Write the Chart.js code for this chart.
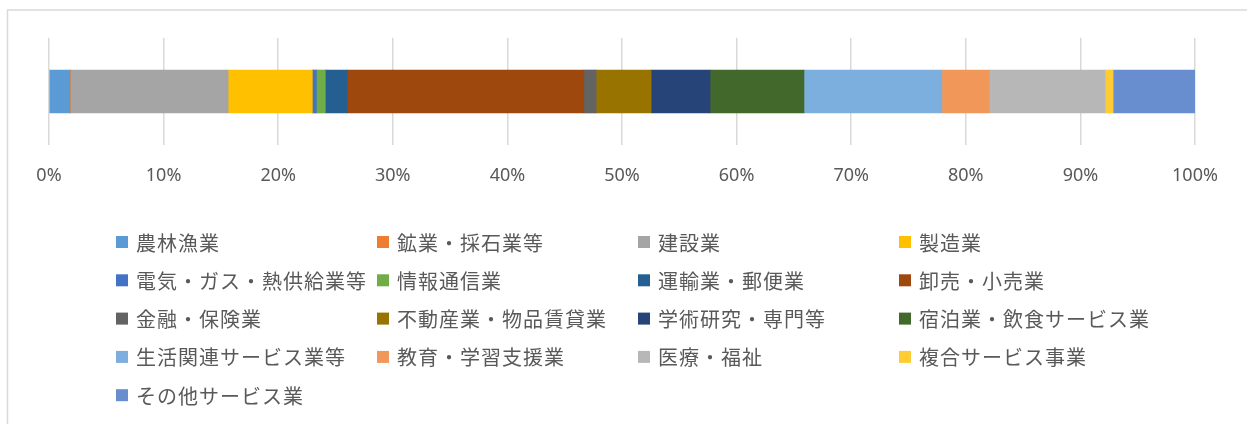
<!DOCTYPE html>
<html lang="ja">
<head>
    <meta charset="UTF-8">
    <title>産業別構成比</title>
    <script src="https://cdn.jsdelivr.net/npm/chart.js"></script>
    <style>
        html, body { margin: 0; padding: 0; background: #fff; }
        #wrap { width: 1247px; height: 424px; }
    </style>
</head>
<body>
    <div id="wrap"><canvas id="chartSangyo" width="1247" height="424"></canvas></div>

    <script>
        // 産業分類
        const sangyo = [
            "農林漁業", "鉱業・採石業等", "建設業", "製造業",
            "電気・ガス・熱供給業等", "情報通信業", "運輸業・郵便業", "卸売・小売業",
            "金融・保険業", "不動産業・物品賃貸業", "学術研究・専門等", "宿泊業・飲食サービス業",
            "生活関連サービス業等", "教育・学習支援業", "医療・福祉", "複合サービス事業",
            "その他サービス業"
        ];
        // 構成比 (%)
        const kouseihi = [
            1.83, 0.05, 13.75, 7.35,
            0.35, 0.78, 1.92, 20.64,
            1.07, 4.80, 5.14, 8.20,
            12.03, 4.15, 10.09, 0.70,
            7.15
        ];
        const warna = [
            "#5B9BD5", "#ED7D31", "#A5A5A5", "#FFC000",
            "#4472C4", "#70AD47", "#255E91", "#9E480E",
            "#636363", "#997300", "#264478", "#43682B",
            "#7CAFDD", "#F1975A", "#B7B7B7", "#FFCD33",
            "#698ED0"
        ];
        const tickMax = 100;
        const tickStep = 10;

        // 枠線
        const framePlugin = {
            id: "frame",
            beforeDraw(chart) {
                const c = chart.ctx;
                c.save();
                c.strokeStyle = "#D9D9D9";
                c.lineWidth = 1.5;
                c.strokeRect(7.5, 10, 1260, 430);
                c.restore();
            }
        };

        // 凡例 (4列)
        const legendGrid = {
            id: "legendGrid",
            afterDraw(chart) {
                const c = chart.ctx;
                c.save();
                c.font = '20px "Noto Sans CJK JP"';
                c.letterSpacing = "1px";
                c.textBaseline = "middle";
                chart.data.datasets.forEach((ds, i) => {
                    const col = i % 4;
                    const row = Math.floor(i / 4);
                    const x = 116 + col * 261;
                    const y = 242 + row * 38.3;
                    c.fillStyle = ds.backgroundColor;
                    c.fillRect(x, y - 6, 12, 12);
                    c.fillStyle = "#595959";
                    c.fillText(ds.label, x + 20, y + 1);
                });
                c.restore();
            }
        };

        new Chart(document.getElementById("chartSangyo"), {
            type: "bar",
            data: {
                labels: [""],
                datasets: sangyo.map((nama, i) => ({
                    label: nama,
                    data: [kouseihi[i]],
                    backgroundColor: warna[i],
                    borderWidth: 0,
                    barThickness: 43
                }))
            },
            options: {
                indexAxis: "y",
                responsive: false,
                animation: false,
                devicePixelRatio: 1,
                layout: { padding: { left: 49, right: 52, top: 38, bottom: 229 } },
                plugins: {
                    legend: { display: false },
                    tooltip: { enabled: false }
                },
                scales: {
                    x: {
                        stacked: true,
                        min: 0,
                        max: tickMax,
                        afterFit(scale) { scale.height = 50; },
                        grid: { color: "#D9D9D9", lineWidth: 1.5, drawTicks: false },
                        border: { display: false },
                        ticks: {
                            stepSize: tickStep,
                            padding: 20,
                            color: "#595959",
                            font: { family: "Noto Sans", size: 18 },
                            callback: v => v + "%"
                        }
                    },
                    y: {
                        stacked: true,
                        display: false
                    }
                }
            },
            plugins: [framePlugin, legendGrid]
        });
    </script>
</body>
</html>
